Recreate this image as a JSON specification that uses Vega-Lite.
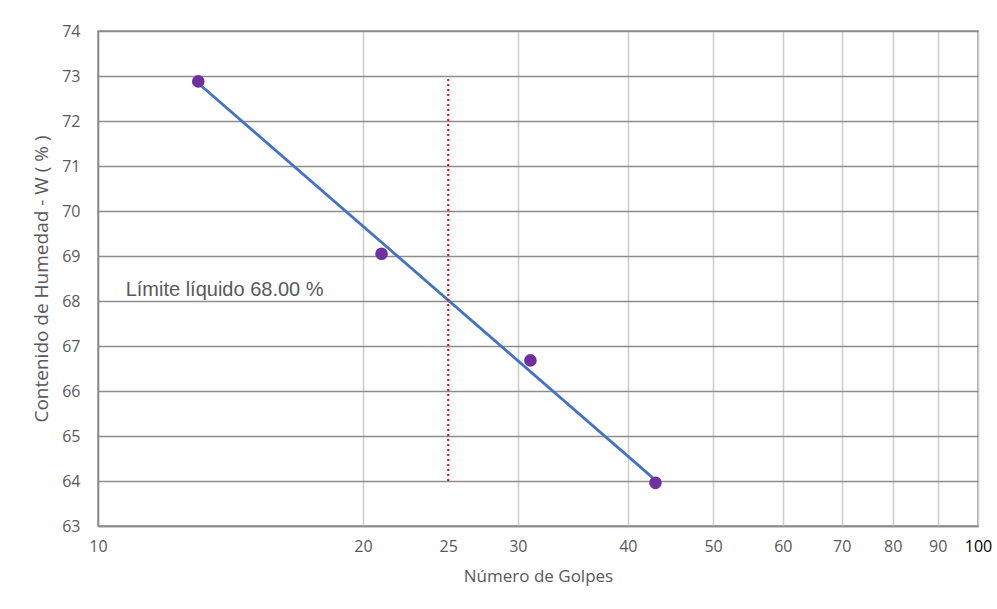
{
  "$schema": "https://vega.github.io/schema/vega-lite/v6.json",
  "width": 880,
  "height": 495,
  "autosize": "none",
  "padding": {"left": 98, "top": 31, "right": 19, "bottom": 83},
  "background": "white",
  "config": {
    "view": {"stroke": "#8c8c8c", "strokeWidth": 1.5},
    "font": "Open Sans"
  },
  "datasets": {
    "points": [
      {"golpes": 13, "w": 72.88},
      {"golpes": 21, "w": 69.05},
      {"golpes": 31, "w": 66.68},
      {"golpes": 43, "w": 63.96}
    ],
    "trend": [
      {"golpes": 13, "w": 72.84},
      {"golpes": 43, "w": 64.02}
    ],
    "limit": [
      {"golpes": 25, "w0": 64, "w1": 73}
    ],
    "label": [
      {"golpes": 10.75, "w": 68.25, "text": "Límite líquido 68.00 %"}
    ]
  },
  "layer": [
    {
      "data": {"name": "trend"},
      "mark": {"type": "line", "color": "#4472c4", "strokeWidth": 2.8},
      "encoding": {
        "x": {
          "field": "golpes", "type": "quantitative",
          "scale": {"type": "log", "domain": [10, 100], "nice": false},
          "axis": {
            "values": [10, 20, 25, 30, 40, 50, 60, 70, 80, 90, 100],
            "title": "Número de Golpes",
            "titleFont": "Open Sans", "titleFontSize": 17, "titleFontWeight": "normal", "titleColor": "#595959",
            "titlePadding": 14,
            "labelFont": "Open Sans", "labelFontSize": 16, "labelColor": {"condition": {"test": "datum.value == 100", "value": "#000000"}, "value": "#595959"},
            "labelPadding": 12, "labelFlush": false,
            "labelExpr": "datum.value",
            "ticks": false, "domainColor": "#8c8c8c", "domainWidth": 1.5,
            "grid": true, "gridColor": "#cccccc", "gridWidth": 1.5,
            "gridOpacity": {"condition": {"test": "datum.value == 25", "value": 0}, "value": 1}
          }
        },
        "y": {
          "field": "w", "type": "quantitative",
          "scale": {"domain": [63, 74], "nice": false, "zero": false},
          "axis": {
            "values": [63, 64, 65, 66, 67, 68, 69, 70, 71, 72, 73, 74],
            "title": "Contenido de Humedad - W ( % )",
            "titleFont": "Open Sans", "titleFontSize": 19, "titleFontWeight": "normal", "titleColor": "#595959",
            "titlePadding": 10,
            "labelFont": "Open Sans", "labelFontSize": 16, "labelColor": "#595959",
            "labelPadding": 18,
            "ticks": false, "domainColor": "#8c8c8c", "domainWidth": 1.5,
            "grid": true, "gridColor": "#8c8c8c", "gridWidth": 1.5
          }
        }
      }
    },
    {
      "data": {"name": "limit"},
      "mark": {"type": "rule", "color": "#ff0000", "strokeWidth": 2, "strokeDash": [2, 3]},
      "encoding": {
        "x": {"field": "golpes", "type": "quantitative"},
        "y": {"field": "w0", "type": "quantitative"},
        "y2": {"field": "w1"}
      }
    },
    {
      "data": {"name": "points"},
      "mark": {"type": "point", "filled": true, "color": "#7030a0", "size": 160, "opacity": 1},
      "encoding": {
        "x": {"field": "golpes", "type": "quantitative"},
        "y": {"field": "w", "type": "quantitative"}
      }
    },
    {
      "data": {"name": "label"},
      "mark": {"type": "text", "align": "left", "baseline": "middle", "font": "Liberation Sans", "fontSize": 20, "color": "#595959"},
      "encoding": {
        "x": {"field": "golpes", "type": "quantitative"},
        "y": {"field": "w", "type": "quantitative"},
        "text": {"field": "text"}
      }
    }
  ]
}
